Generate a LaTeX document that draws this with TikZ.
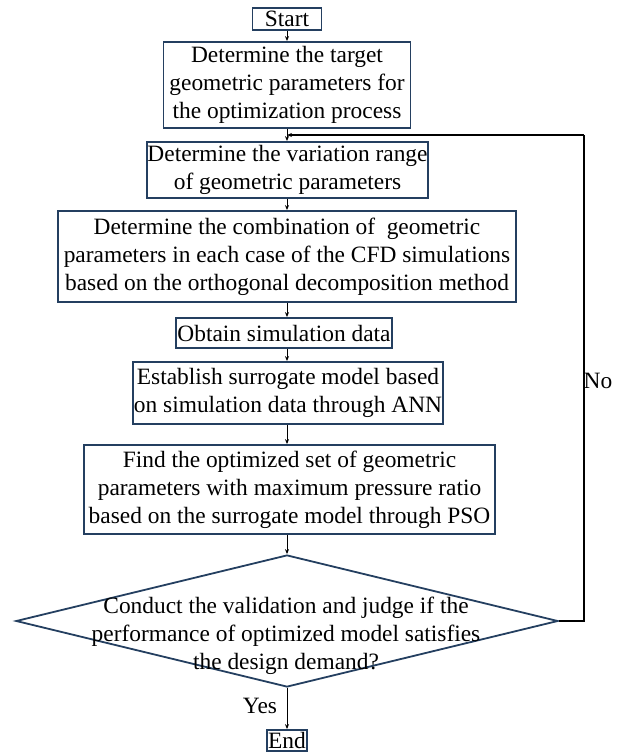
\documentclass[tikz,border=0pt]{standalone}
\usepackage{fontspec}
\setmainfont{Liberation Serif}
\usetikzlibrary{shapes.geometric,arrows.meta}
\definecolor{boxline}{HTML}{243F60}
\begin{document}
\begin{tikzpicture}[x=1pt,y=-1pt,
  every node/.style={font=\fontsize{23.4}{28}\selectfont},
  stepbox/.style={draw=boxline,line width=1.8pt,align=center,inner sep=0pt},
  decision/.style={draw=boxline,line width=1.8pt,diamond,inner sep=0pt,aspect=4.1},
  flow/.style={draw=black,line width=1pt,-{Stealth[length=5pt,width=4pt]}},
  plainline/.style={draw=black,line width=1.6pt}
]
\useasboundingbox (0,0) rectangle (628,753);
\node[stepbox,minimum width=69pt,minimum height=22pt] (start) at (287,19) {Start};
\node[stepbox,minimum width=247pt,minimum height=86pt] (b1) at (287,85) {Determine the target\\geometric parameters for\\the optimization process};
\node[stepbox,minimum width=281pt,minimum height=56pt] (b2) at (287.5,170) {Determine the variation range\\of geometric parameters};
\node[stepbox,minimum width=458pt,minimum height=91pt] (b3) at (287,256.5) {Determine the combination of\ \ geometric\\parameters in each case of the CFD simulations\\based on the orthogonal decomposition method};
\node[stepbox,minimum width=216pt,minimum height=30pt] (b4) at (284,333) {Obtain simulation data};
\node[stepbox,minimum width=310pt,minimum height=62pt] (b5) at (288,393) {Establish surrogate model based\\on simulation data through ANN};
\node[stepbox,minimum width=411pt,minimum height=89pt] (b6) at (289.5,489.5) {Find the optimized set of geometric\\parameters with maximum pressure ratio\\based on the surrogate model through PSO};
\node[decision,minimum width=542pt,minimum height=132pt] (d) at (287,621) {};
\node[align=center,inner sep=0pt] (dt) at (286,636) {Conduct the validation and judge if the\\performance of optimized model satisfies\\the design demand?};
\node[stepbox,minimum width=40pt,minimum height=21pt] (end) at (287,740.5) {End};
\node (yes) at (260,706) {Yes};
\node (no) at (598,381) {No};
\coordinate (j) at (287,135);
\coordinate (rb) at (584,621);
\coordinate (rt) at (584,135);
\draw[flow] (start.south) -- (start.south |- b1.north);
\draw[flow] (b1.south -| j) -- (b2.north -| j);
\draw[flow] (b2.south -| j) -- (b3.north -| j);
\draw[flow] (b3.south -| j) -- (b4.north -| j);
\draw[flow] (b4.south -| j) -- (b5.north -| j);
\draw[flow] (b5.south -| j) -- (b6.north -| j);
\draw[flow] (b6.south -| j) -- (d.north);
\draw[flow] (d.south) -- (end.north);
\draw[plainline] (d.east) -- (rb) -- (rt);
\draw[flow,line width=1.6pt] (rt) -- (j);
\end{tikzpicture}
\end{document}
